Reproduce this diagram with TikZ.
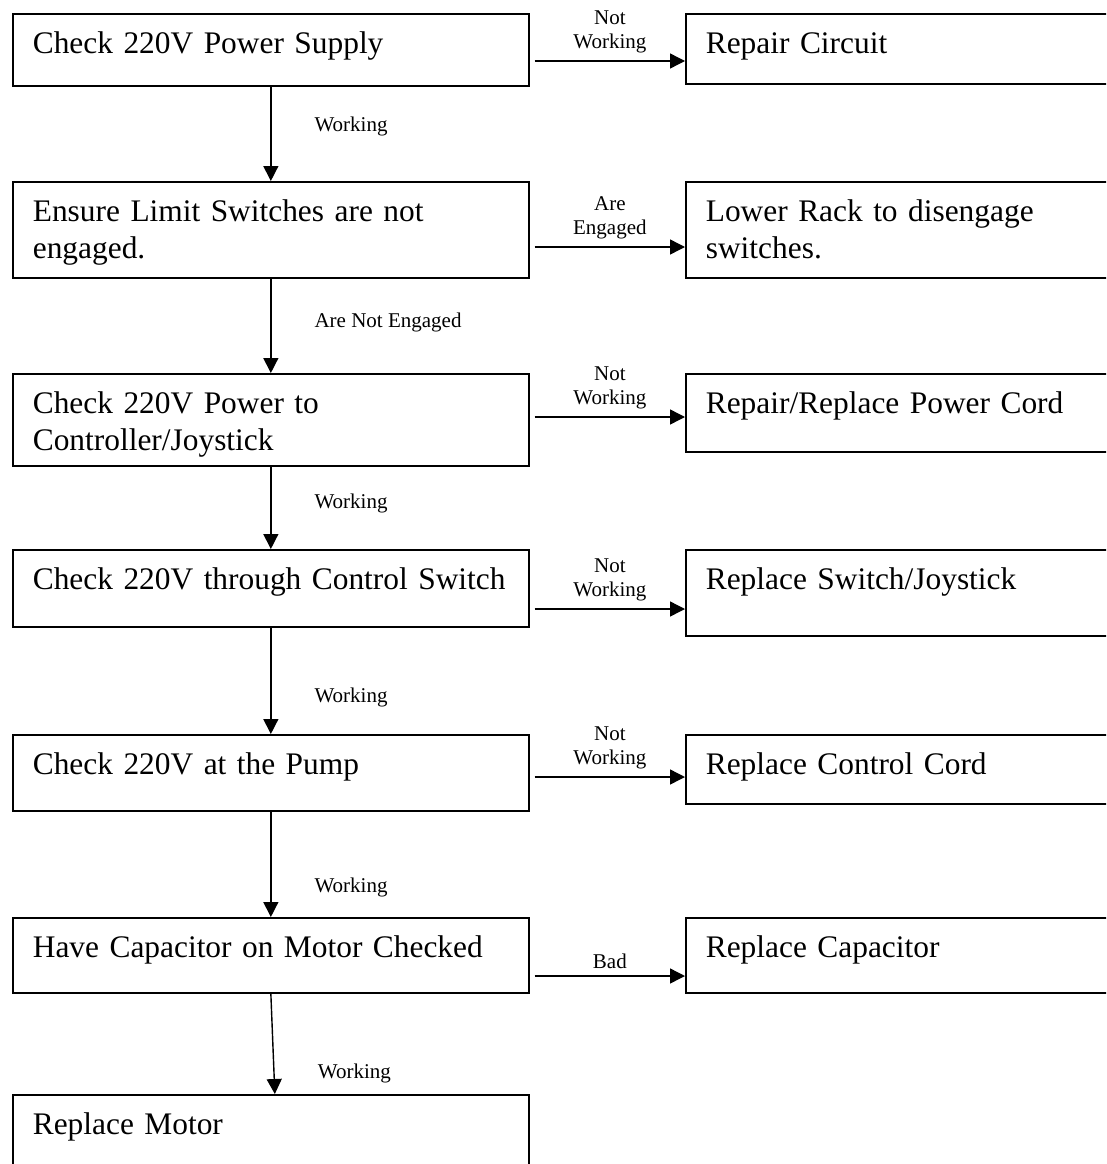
\documentclass[tikz,border=0pt]{standalone}
\usepackage{fontspec}
\setmainfont{Liberation Serif}
\usetikzlibrary{arrows.meta}

\begin{document}
\begin{tikzpicture}
            [x=1pt,y=-1pt,
             box/.style={draw,line width=1.7pt,anchor=north west,inner xsep=20pt,inner ysep=0pt,
               align=left,font=\fontsize{31.4}{37}\selectfont,text height=40pt,text depth=#1},
             lbox/.style={box=#1,text width=476pt},
             rbox/.style={box=#1,text width=420pt},
             arr/.style={line width=1.4pt,-{Triangle[length=15pt,width=15pt]}},
             lbl/.style={font=\fontsize{21}{24}\selectfont,align=center,inner sep=2pt,text depth=5pt,above=5pt},
             wlbl/.style={font=\fontsize{21}{24}\selectfont,anchor=base west,inner sep=0pt,xshift=43pt}]
            \useasboundingbox (0,0) rectangle (1106,1164);
            \clip (0,0) rectangle (1106,1164);

            % checks
            \node[lbox=32pt] (b1) at (12,13)   {Check 220V Power Supply};
            \node[lbox=56pt] (b2) at (12,181)  {Ensure Limit Switches are not\\engaged.};
            \node[lbox=52pt] (b3) at (12,373)  {Check 220V Power to\\Controller/Joystick};
            \node[lbox=37pt] (b4) at (12,549)  {Check 220V through Control Switch};
            \node[lbox=36pt] (b5) at (12,734)  {Check 220V at the Pump};
            \node[lbox=35pt] (b6) at (12,917)  {Have Capacitor on Motor Checked};
            \node[lbox=60pt] (b7) at (12,1094) {Replace Motor};

            % fixes
            \node[rbox=30pt] (r1) at (685,13)  {Repair Circuit};
            \node[rbox=56pt] (r2) at (685,181) {Lower Rack to disengage\\switches.};
            \node[rbox=38pt] (r3) at (685,373) {Repair/Replace Power Cord};
            \node[rbox=46pt] (r4) at (685,549) {Replace Switch/Joystick};
            \node[rbox=29pt] (r5) at (685,734) {Replace Control Cord};
            \node[rbox=35pt] (r6) at (685,917) {Replace Capacitor};

            % failed checks
            \draw[arr] ([xshift=5pt,yshift=-48pt]b1.north east) -- ([yshift=-48pt]r1.north west) node[lbl,midway] (n1) {Not\\Working};
            \draw[arr] ([xshift=5pt,yshift=-66pt]b2.north east) -- ([yshift=-66pt]r2.north west) node[lbl,midway] (n2) {Are\\Engaged};
            \draw[arr] ([xshift=5pt,yshift=-44pt]b3.north east) -- ([yshift=-44pt]r3.north west) node[lbl,midway] (n3) {Not\\Working};
            \draw[arr] ([xshift=5pt,yshift=-60pt]b4.north east) -- ([yshift=-60pt]r4.north west) node[lbl,midway] (n4) {Not\\Working};
            \draw[arr] ([xshift=5pt,yshift=-43pt]b5.north east) -- ([yshift=-43pt]r5.north west) node[lbl,midway] (n5) {Not\\Working};
            \draw[arr] ([xshift=5pt,yshift=-59pt]b6.north east) -- ([yshift=-59pt]r6.north west) node[lbl,midway,yshift=-5pt] (n6) {Bad};

            % passed checks
            \draw[arr] (b1.south) -- (b2.north) node[wlbl,pos=.47] (w1) {Working};
            \draw[arr] (b2.south) -- (b3.north) node[wlbl,pos=.52] (w2) {Are Not Engaged};
            \draw[arr] (b3.south) -- (b4.north) node[wlbl,pos=.51] (w3) {Working};
            \draw[arr] (b4.south) -- (b5.north) node[wlbl,pos=.70] (w4) {Working};
            \draw[arr] (b5.south) -- (b6.north) node[wlbl,pos=.77] (w5) {Working};
            \draw[arr] (b6.south) -- ([xshift=4pt]b7.north) node[wlbl,pos=.85] (w6) {Working};
        \end{tikzpicture}
\end{document}
